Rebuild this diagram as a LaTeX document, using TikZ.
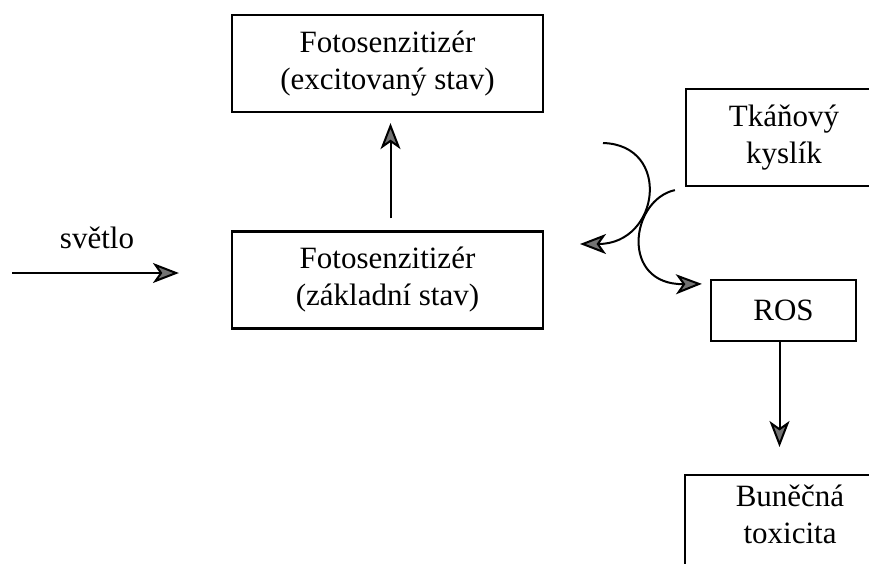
\documentclass[tikz,border=0pt]{standalone}
\usepackage{fontspec}
\setmainfont{Liberation Serif}
\usetikzlibrary{arrows.meta}
\begin{document}
\begin{tikzpicture}[x=1pt,y=-1pt,
    box/.style={draw, line width=2.2pt, align=center, inner sep=0pt,
      font=\fontsize{31}{37}\selectfont},
    lbl/.style={font=\fontsize{31}{37}\selectfont},
    arr/.style={line width=2pt,
      -{Stealth[length=26pt,width=20pt,inset=7pt,fill=black!55]}}]
  \useasboundingbox (0,0) rectangle (869,563);

  % Photosensitiser, two states
  \node[box, minimum width=311, minimum height=97] (exc) at (387.5,63.5) {Fotosenzitizér\\(excitovaný stav)};
  \node[box, minimum width=311, minimum height=97] (gnd) at (387.5,280) {Fotosenzitizér\\(základní stav)};

  % Right column (boxes run off the page)
  \node[box, minimum width=196, minimum height=97] (kyslik) at (784,137.5) {Tkáňový\\kyslík};
  \node[box, minimum width=145, minimum height=61] (ros) at (783.5,310.5) {ROS};
  \node[box, anchor=north, minimum width=210, inner ysep=10pt, text depth=70pt] (tox) at (790,474) {Buněčná\\toxicita};

  % Light
  \node[lbl] (svetlo) at (97,238) {světlo};
  \coordinate (light) at (12,273);
  \draw[arr, shorten >=52pt] (light) -- (gnd.west |- light);

  % Excitation
  \draw[arr, shorten <=12pt, shorten >=10pt] ([xshift=3pt]gnd.north) -- ([xshift=3pt]exc.south);

  % Energy transfer to oxygen
  \coordinate (back1) at (603,143);
  \coordinate (back2) at (580,244);
  \coordinate (oxy1) at ([shift={(-10,3)}]kyslik.south west);
  \coordinate (oxy2) at ([shift={(-8,5)}]ros.north west);
  \draw[arr] (back1) .. controls (672,145) and (660,244) .. (back2);
  \draw[arr] (oxy1) .. controls (630,200) and (620,285) .. (oxy2);

  % ROS to toxicity
  \draw[arr, shorten >=27pt] ([xshift=-4pt]ros.south) -- ([xshift=-4pt]ros.south |- tox.north);
\end{tikzpicture}
\end{document}
